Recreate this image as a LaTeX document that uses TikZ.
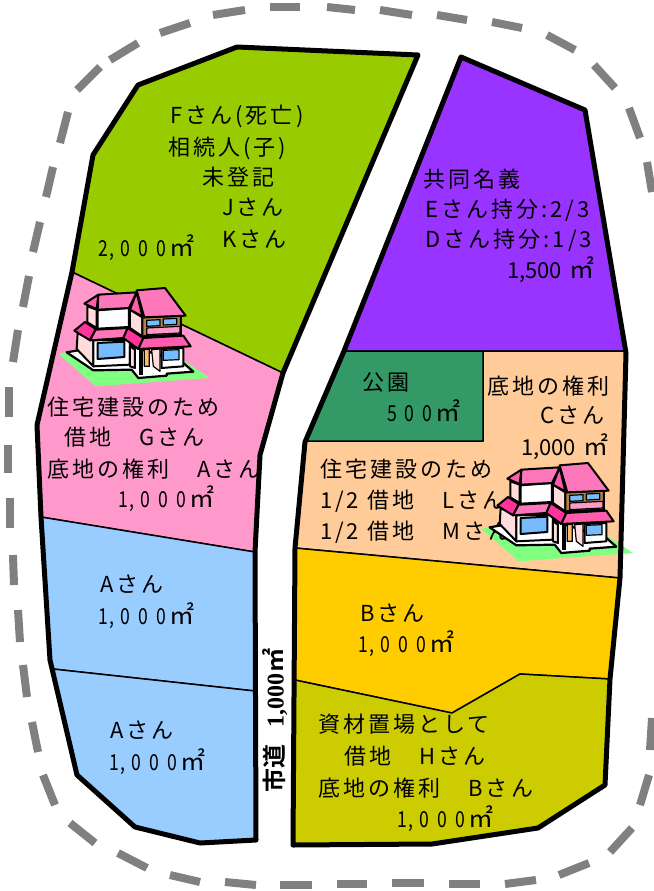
\documentclass[tikz,border=0pt]{standalone}
\usepackage{fontspec}
\setmainfont{Noto Sans CJK JP}
\newfontfamily\jpspaced[LetterSpace=14]{Noto Sans CJK JP}
\newfontfamily\jpwide[LetterSpace=37,FakeStretch=0.8]{Noto Sans CJK JP}
\newfontfamily\jpplain{Noto Sans CJK JP}
\newfontfamily\jpbold{Noto Sans CJK JP Bold}
\newfontfamily\serifbold{Liberation Serif Bold}
\newcommand\unitmark{{\fontsize{25}{25}\jpplain ㎡}}
\newcommand\wideset[1]{{\jpwide #1}\kern3pt\unitmark}
\newcommand\plainset[1]{{\jpplain #1}\kern8pt\unitmark}
\definecolor{plotgreen}{HTML}{99CC00}
\definecolor{plotpink}{HTML}{FF99CC}
\definecolor{plotblue}{HTML}{99CCFF}
\definecolor{plotpurple}{HTML}{9933FF}
\definecolor{plotpark}{HTML}{339966}
\definecolor{plotpeach}{HTML}{FFCC99}
\definecolor{plotyellow}{HTML}{FFCC00}
\definecolor{plotolive}{HTML}{CCCC00}
\definecolor{roofpink}{HTML}{FF77BB}
\definecolor{roofmid}{HTML}{FF5CAD}
\definecolor{roofdark}{HTML}{FF3399}
\definecolor{wallpale}{HTML}{FFDDDD}
\definecolor{windowblue}{HTML}{77BBFF}
\definecolor{doororange}{HTML}{FFBB66}
\definecolor{lawn}{HTML}{80FF80}
\definecolor{dashgrey}{HTML}{808080}
\tikzset{
  plot/.style={draw=black,line width=1.5pt,line join=round},
  border/.style={draw=black,line width=5pt,line join=round},
  fence/.style={draw=dashgrey,line width=8pt},
  lbl/.style={anchor=base west,inner sep=0pt,outer sep=0pt,font=\fontsize{22}{24}\jpspaced},
  hs/.style={draw=black,line width=1.2pt,line join=round},
  hsthick/.style={draw=black,line width=2pt,line join=round},
  houselawn/.pic={
    \fill[lawn] (10,212)--(122,310)--(465,285)--(390,235)--(200,180)--cycle;
  },
  house/.pic={
    \filldraw[fill=white,draw=black,line width=2.2pt,line join=round] (35,208)--(115,262)--(230,260)--(250,285)--(335,278)--(335,272)--(415,266)--(385,240)--(200,180)--cycle;
    \filldraw[hsthick,fill=wallpale] (68,150)--(65,198)--(115,250)--(115,172)--cycle;
    \filldraw[hsthick,fill=white] (115,172)--(115,250)--(225,245)--(225,170)--cycle;
    \filldraw[hsthick,fill=windowblue] (128,180)--(208,176)--(208,222)--(128,228)--cycle;
    \filldraw[hsthick,fill=wallpale] (97,70)--(97,118)--(125,135)--(125,80)--cycle;
    \filldraw[hsthick,fill=white] (128,82)--(222,75)--(222,132)--(128,137)--cycle;
    \filldraw[hsthick,fill=wallpale] (225,80)--(262,103)--(262,160)--(225,135)--cycle;
    \filldraw[hsthick,fill=doororange!70!black] (262,103)--(378,98)--(378,155)--(262,160)--cycle;
    \filldraw[hs,fill=windowblue] (275,112)--(315,110)--(315,128)--(275,130)--cycle;
    \filldraw[hs,fill=windowblue] (325,108)--(365,106)--(365,124)--(325,126)--cycle;
    \filldraw[hs,fill=plotpink] (275,135)--(375,130)--(375,150)--(275,155)--cycle;
    \filldraw[hsthick,fill=roofpink] (245,22)--(330,15)--(392,98)--(268,103)--cycle;
    \filldraw[hsthick,fill=roofpink] (130,35)--(245,28)--(222,75)--(128,80)--cycle;
    \filldraw[hsthick,fill=roofmid] (88,62)--(130,35)--(125,78)--cycle;
    \filldraw[hsthick,fill=roofmid] (245,28)--(262,100)--(225,80)--cycle;
    \filldraw[hsthick,fill=wallpale] (225,190)--(225,250)--(240,255)--(240,200)--cycle;
    \filldraw[hsthick,fill=white] (320,198)--(385,195)--(385,250)--(320,255)--cycle;
    \filldraw[hs,fill=windowblue] (325,202)--(372,200)--(372,230)--(325,232)--cycle;
    \filldraw[hs,fill=wallpale] (290,200)--(315,198)--(315,265)--(295,250)--cycle;
    \filldraw[hs,fill=doororange] (268,200)--(283,198)--(283,250)--(268,250)--cycle;
    \fill[black] (252,200)--(265,200)--(265,275)--(252,275)--cycle;
    \filldraw[hsthick,fill=roofdark] (58,143)--(90,117)--(122,138)--(105,172)--cycle;
    \filldraw[hsthick,fill=roofpink] (122,140)--(218,135)--(205,165)--(105,172)--cycle;
    \filldraw[hsthick,fill=roofdark] (218,135)--(265,165)--(250,198)--(205,165)--cycle;
    \filldraw[hsthick,fill=roofmid] (265,165)--(385,158)--(407,190)--(250,198)--cycle;
  }
}
\begin{document}
\begin{tikzpicture}[x=1pt,y=-1pt]
\useasboundingbox (0,0) rectangle (653,891);
% fence dashes
\foreach \ax/\ay/\bx/\by in {
 270/7.5/300/7.5,213/15/245/10,160/33/190/23,110/60/138/43,77/90/100/67,
 68/112/60/143,53/167/46/197,40/222/33/252,29/276/23/307,18/330/13/362,9/387/9/417,
 8/445/8/473,10/498/10/528,13/555/14/585,18/610/20/642,23/665/27/697,32/722/38/752,
 43/775/55/805,70/823/95/843,118/853/147/868,170/875/200/882,225/882/256/885,280/885/312/885,
 337/884/367/884,392/883/424/883,449/884/480/884,505/884/536/880,559/875/589/863,610/852/632/828,
 640/805/649/775,650/750/652/718,
 647/162/652/192,629/108/640/138,594/65/615/88,547/35/575/50,492/22/522/28,437/15/467/20,380/10/412/15,327/7/355/10}
 {\draw[fence] (\ax,\ay)--(\bx,\by);}
% left plots
\filldraw[plot,fill=plotgreen] (72,272)--(93,155)--(138,85)--(237,47)--(418,55)--(283,373)--cycle;
\filldraw[plot,fill=plotpink] (72,272)--(283,373)--(260,455)--(255,552)--(41,517)--(37,425)--cycle;
\filldraw[plot,fill=plotblue] (41,517)--(255,552)--(255,691)--(53,669)--(50,660)--cycle;
\filldraw[plot,fill=plotblue] (53,669)--(255,691)--(256,840)--(200,843)--(135,827)--(77,775)--cycle;
% right plots
\filldraw[plot,fill=plotpurple] (461,57)--(585,110)--(626,351)--(344,351)--cycle;
\filldraw[plot,fill=plotpeach] (483,351)--(626,351)--(620,578)--(295,548)--(305,441)--(483,441)--cycle;
\filldraw[plot,fill=plotpark] (344,351)--(483,351)--(483,441)--(305,441)--cycle;
\filldraw[plot,fill=plotyellow] (295,548)--(620,578)--(610,679)--(520,674)--(452,713)--(295,680)--cycle;
\filldraw[plot,fill=plotolive] (295,680)--(452,713)--(520,674)--(610,679)--(605,785)--(538,828)--(432,844)--(293,845)--cycle;
% lawns
\pic[scale=0.3333] at (55,283) {houselawn};
\pic[scale=0.3333] at (478,458) {houselawn};
% labels
\node[lbl] (f1) at (170,123) {Fさん(死亡)};
\node[lbl] (f2) at (168,155) {相続人(子)};
\node[lbl] (f3) at (202,185) {未登記};
\node[lbl] (f4) at (222,215) {Jさん};
\node[lbl] (f5) at (222,247) {Kさん};
\node[lbl] (f6) at (98,256) {\wideset{2\kern2pt,\kern6pt 000}};
\node[lbl] (p1) at (47,415) {住宅建設のため};
\node[lbl] (p2) at (64,445) {借地　Gさん};
\node[lbl] (p3) at (47,477) {底地の権利　Aさん};
\node[lbl] (p4) at (118,507) {\wideset{1\kern2pt,\kern6pt 000}};
\node[lbl] (a1) at (100,592) {Aさん};
\node[lbl] (a2) at (98,624) {\wideset{1\kern2pt,\kern6pt 000}};
\node[lbl] (a3) at (110,738) {Aさん};
\node[lbl] (a4) at (109,770) {\wideset{1\kern2pt,\kern6pt 000}};
\node[lbl] (e1) at (423,187) {共同名義};
\node[lbl] (e2) at (425,217) {Eさん持分:2/3};
\node[lbl] (e3) at (425,247) {Dさん持分:1/3};
\node[lbl] (e4) at (507,278) {\plainset{1,500}};
\node[lbl] (k1) at (362,390) {公園};
\node[lbl] (k2) at (387,421) {\wideset{500}};
\node[lbl] (c1) at (487,394) {底地の権利};
\node[lbl] (c2) at (540,423) {Cさん};
\node[lbl] (c3) at (521,455) {\plainset{1,000}};
\node[lbl] (l1) at (320,477) {住宅建設のため};
\node[lbl] (l2) at (320,508) {1/2 借地　Lさん};
\node[lbl] (l3) at (320,539) {1/2 借地　Mさん};
\node[lbl] (b1) at (360,621) {Bさん};
\node[lbl] (b2) at (358,652) {\wideset{1\kern2pt,\kern6pt 000}};
\node[lbl] (h1) at (318,732) {資材置場として};
\node[lbl] (h2) at (344,764) {借地　Hさん};
\node[lbl] (h3) at (318,796) {底地の権利　Bさん};
\node[lbl] (h4) at (397,827) {\wideset{1\kern2pt,\kern6pt 000}};
\node[anchor=west,inner sep=0pt,rotate=90,font=\fontsize{24}{26}\jpbold] (road) at (275,793) {市道\hspace{17pt}{\serifbold 1,000}\hspace{1pt}㎡};
% houses
\pic[scale=0.3333] at (55,283) {house};
\pic[scale=0.3333] at (478,458) {house};
% thick outlines
\draw[border] (418,55)--(237,47)--(138,85)--(93,155)--(72,272)--(37,425)--(41,517)--(50,660)--(77,775)--(135,827)--(200,843)--(256,840)--(255,552)--(260,455)--(283,373)--cycle;
\draw[border] (461,57)--(585,110)--(626,353)--(620,578)--(610,679)--(605,785)--(538,828)--(432,844)--(293,845)--(295,548)--(305,442)--(344,351)--cycle;
\end{tikzpicture}
\end{document}
